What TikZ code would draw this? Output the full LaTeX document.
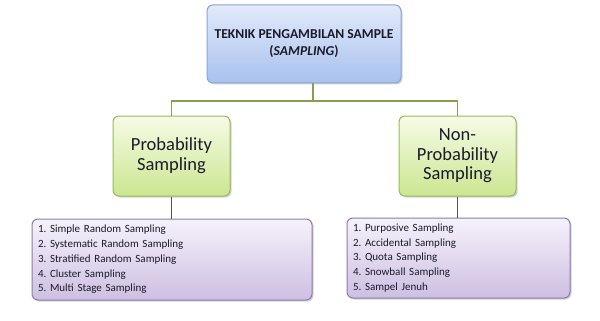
\documentclass[tikz,border=0pt]{standalone}
\usepackage{fontspec}
\setmainfont{Carlito}
\usetikzlibrary{shadows}
\definecolor{topA}{HTML}{E2EAFA}
\definecolor{topB}{HTML}{A9C1EE}
\definecolor{topD}{HTML}{8AA5D6}
\definecolor{grnA}{HTML}{F6FBE6}
\definecolor{grnB}{HTML}{CBE690}
\definecolor{grnD}{HTML}{9AB95A}
\definecolor{purA}{HTML}{F6F2FB}
\definecolor{purB}{HTML}{CDBFE2}
\definecolor{purD}{HTML}{8E7AAE}
\definecolor{lineC}{HTML}{86A04E}
\definecolor{lineD}{HTML}{555555}
\definecolor{txt}{HTML}{1A1A2A}
\tikzset{
  box/.style={rounded corners=6pt, line width=1pt, text=txt, drop shadow={shadow xshift=1.5pt, shadow yshift=-1.5pt, opacity=0.35}},
  topbox/.style={box, draw=topD, top color=topA, bottom color=topB},
  grnbox/.style={box, draw=grnD, top color=grnA, bottom color=grnB},
  purbox/.style={box, draw=purD, top color=purA, bottom color=purB},
  conn/.style={line width=1.6pt, draw=lineC},
  conn2/.style={line width=1.6pt, draw=lineD},
}
\begin{document}
\frenchspacing
\begin{tikzpicture}[x=1pt,y=-1pt]
\useasboundingbox[fill=white] (0,0) rectangle (600,321);
% boxes
\node[topbox, minimum width=194pt, minimum height=78pt, align=center, font=\bfseries\fontsize{13.6}{17}\selectfont] (top) at (304,44) {TEKNIK PENGAMBILAN SAMPLE\\(\textit{SAMPLING})};
\node[grnbox, minimum width=117pt, minimum height=80pt, align=center, font=\fontsize{18.5}{20}\selectfont] (prob) at (171.5,156) {Probability\\Sampling};
\node[grnbox, minimum width=117pt, minimum height=80pt, align=center, font=\fontsize{18.5}{19.5}\selectfont] (nonprob) at (457.5,156) {Non-\\Probability\\Sampling};
\node[purbox, minimum width=280pt, minimum height=81pt, font=\fontsize{11}{14.8}\selectfont, align=left, text width=268pt] (plist) at (172,259.5) {1. Simple Random Sampling\\2. Systematic Random Sampling\\3. Stratified Random Sampling\\4. Cluster Sampling\\5. Multi Stage Sampling};
\node[purbox, minimum width=223pt, minimum height=80pt, font=\fontsize{11}{14.8}\selectfont, align=left, text width=211pt] (nlist) at (458.5,258) {1. Purposive Sampling\\2. Accidental Sampling\\3. Quota Sampling\\4. Snowball Sampling\\5. Sampel Jenuh};
% connectors
\coordinate (mid) at (313,101);
\draw[conn] (top.south -| mid) -- (mid);
\draw[conn] (prob.north) |- (mid) -| (nonprob.north);
\draw[conn2] (prob.south) -- (plist.north -| prob.south);
\draw[conn2] (nonprob.south) -- (nlist.north -| nonprob.south);
\end{tikzpicture}
\end{document}
